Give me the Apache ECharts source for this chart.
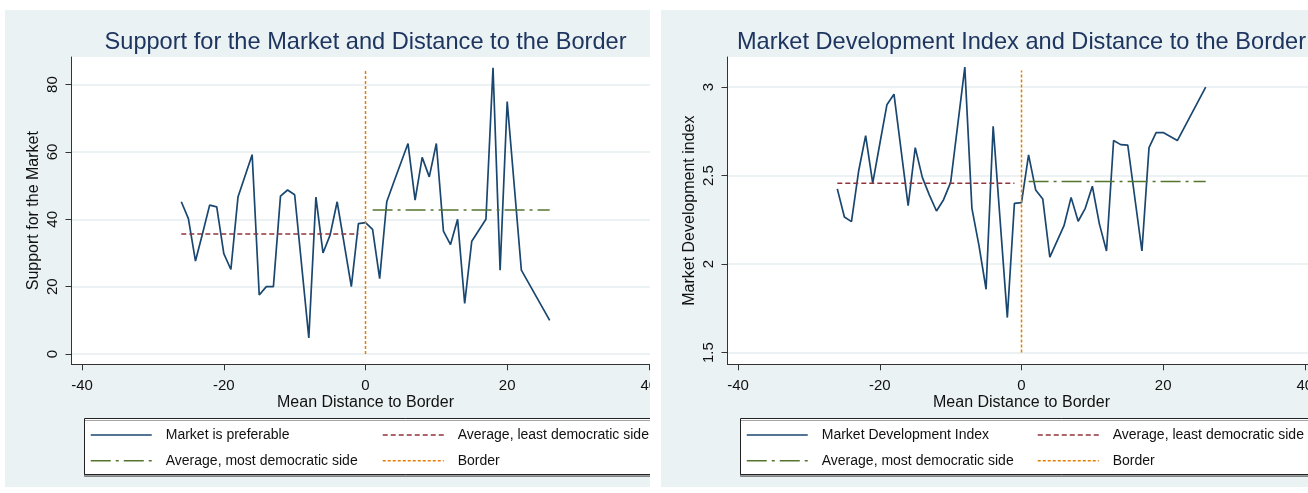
<!DOCTYPE html>
<html>
<head>
<meta charset="utf-8">
<script src="https://cdn.jsdelivr.net/npm/echarts@6/dist/echarts.min.js"></script>
<style>
  body { margin: 0; background: #fff; width: 1308px; height: 493px; position: relative; overflow: hidden; }
  .panel { position: absolute; top: 10px; height: 477px; overflow: hidden; background: #eaf2f3; }
  .panel .chart { width: 721px; height: 477px; }
</style>
</head>
<body>
<div class="panel" style="left:5px;width:645px"><div id="support" class="chart"></div></div>
<div class="panel" style="left:661px;width:647px"><div id="mdi" class="chart"></div></div>
<script>
// mean distance to border, one point per bin
var distance = [-26, -25, -24, -23, -22, -21, -20, -19, -18, -16, -15, -14, -13, -12, -11, -10,
  -8, -7, -6, -5, -4, -2, -1, 0, 1, 2, 3, 4, 6, 7, 8, 9, 10, 11, 12, 13, 14, 15, 17, 18, 19, 20, 22, 26]

// support for the market (%)
var supportMarket = [45.2, 40.2, 27.6, 35.8, 44.2, 43.7, 29.8, 25.1, 46.6, 59.2, 17.5, 20.0, 20.0, 46.9, 48.7, 47.3,
  4.8, 46.6, 30.0, 35.3, 45.2, 20.0, 38.7, 39.0, 37.0, 22.4, 45.2, 51.1, 62.5, 45.7, 58.4, 52.6, 62.5, 36.5, 32.5, 40.0,
  15.0, 33.5, 40.0, 85.0, 24.9, 75.0, 24.9, 10.0]

// market development index
var marketIndex = [2.425, 2.266, 2.240, 2.523, 2.726, 2.458, 2.68, 2.900, 2.960, 2.330, 2.658, 2.49, 2.39, 2.300, 2.364, 2.462,
  3.113, 2.315, 2.104, 1.858, 2.779, 1.698, 2.343, 2.347, 2.617, 2.419, 2.368, 2.040, 2.217, 2.377, 2.242, 2.315, 2.440, 2.226,
  2.074, 2.698, 2.675, 2.672, 2.074, 2.658, 2.743, 2.743, 2.698, 3.000]

// side averages: [from, to, value]
var supportLeast = [-26, -1, 35.6]
var supportMost = [1, 26, 42.8]
var indexLeast = [-26, -1, 2.457]
var indexMost = [1, 26, 2.466]

// border line: [bottom, top]
var supportBorder = [0, 84.5]
var indexBorder = [1.5, 3.094]

var xTicks = [-40, -20, 0, 20, 40]
var supportTicks = [0, 20, 40, 60, 80]
var indexTicks = [1.5, 2, 2.5, 3]

var FONT = '"Liberation Sans", Arial, sans-serif'
var INK = '#111'

function pairs(xs, ys) {
  return xs.map(function (x, i) { return [x, ys[i]] })
}

function hline(a) {
  return [[a[0], a[2]], [a[1], a[2]]]
}

function legendCol(left, names) {
  return {
    orient: 'vertical',
    left: left,
    top: 418,
    padding: 0,
    itemGap: 11.7,
    itemWidth: 61,
    itemHeight: 14,
    selectedMode: false,
    data: names,
    // hide the circle ECharts puts on line icons
    itemStyle: { color: 'transparent', borderWidth: 0 },
    lineStyle: { width: 1.5 },
    textStyle: { fontFamily: FONT, fontSize: 14, color: INK, padding: [0, 0, 0, 9] }
  }
}

function buildOption(cfg) {
  return {
    animation: false,
    textStyle: { fontFamily: FONT },
    title: {
      text: cfg.title,
      left: 'center',
      top: 15,
      textStyle: { fontFamily: FONT, fontSize: 23.6, fontWeight: 'normal', color: '#1e3560' }
    },
    grid: { left: 66.5, right: 66.5, top: 47, bottom: 122.7, show: true, backgroundColor: '#fff', borderWidth: 0 },
    /** legend box */
    graphic: [{
      type: 'rect',
      left: 79,
      top: 408,
      z: 0,
      shape: { width: 700, height: 56 },
      style: { fill: '#fff', stroke: '#222', lineWidth: 1, shadowColor: 'rgba(0,0,0,0.35)', shadowOffsetY: 2 }
    }],
    legend: [
      legendCol(85, [cfg.name, 'Average, most democratic side']),
      legendCol(cfg.col2, ['Average, least democratic side', 'Border'])
    ],
    xAxis: {
      type: 'value',
      min: -41.5,
      max: 41.5,
      name: 'Mean Distance to Border',
      nameLocation: 'middle',
      nameGap: 30,
      nameMoveOverlap: false,
      nameTextStyle: { fontFamily: FONT, fontSize: 16, color: INK },
      axisLine: { show: true, onZero: false, lineStyle: { color: '#333', width: 1 } },
      axisTick: { show: true, length: 6, customValues: xTicks, lineStyle: { color: '#333' } },
      axisLabel: { customValues: xTicks, fontFamily: FONT, fontSize: 15, color: INK, margin: 14 },
      splitLine: { show: false }
    },
    yAxis: {
      type: 'value',
      min: cfg.yMin,
      max: cfg.yMax,
      name: cfg.yName,
      nameLocation: 'middle',
      nameGap: 30,
      nameMoveOverlap: false,
      nameTextStyle: { fontFamily: FONT, fontSize: 16, color: INK },
      axisLine: { show: true, onZero: false, lineStyle: { color: '#333', width: 1 } },
      axisTick: { show: true, length: 6, customValues: cfg.yTicks, lineStyle: { color: '#333' } },
      axisLabel: { customValues: cfg.yTicks, rotate: 90, fontFamily: FONT, fontSize: 15, color: INK, margin: 11 },
      splitLine: { show: true, lineStyle: { color: '#e6eef0', width: 1.5 } }
    },
    series: [
      {
        name: cfg.name,
        type: 'line',
        symbol: 'none',
        data: pairs(distance, cfg.values),
        itemStyle: { color: '#1a476f' },
        lineStyle: { color: '#1a476f', width: 1.7 }
      },
      {
        name: 'Average, least democratic side',
        type: 'line',
        symbol: 'none',
        data: hline(cfg.least),
        itemStyle: { color: '#90353b' },
        lineStyle: { color: '#90353b', width: 1.5, type: [5, 3] }
      },
      {
        name: 'Average, most democratic side',
        type: 'line',
        symbol: 'none',
        data: hline(cfg.most),
        itemStyle: { color: '#55752f' },
        lineStyle: { color: '#55752f', width: 1.5, type: [20, 5, 3, 5] }
      },
      {
        name: 'Border',
        type: 'line',
        symbol: 'none',
        data: [[0, cfg.border[0]], [0, cfg.border[1]]],
        itemStyle: { color: '#e37e00' },
        lineStyle: { color: '#e37e00', width: 1.5, type: [3, 2] }
      }
    ]
  }
}

var supportChart = echarts.init(document.getElementById('support'))
supportChart.setOption(buildOption({
  title: 'Support for the Market and Distance to the Border',
  name: 'Market is preferable',
  yName: 'Support for the Market',
  values: supportMarket,
  least: supportLeast,
  most: supportMost,
  border: supportBorder,
  yMin: -3.06,
  yMax: 88.2,
  yTicks: supportTicks,
  col2: 377
}))

var indexChart = echarts.init(document.getElementById('mdi'))
indexChart.setOption(buildOption({
  title: 'Market Development Index and Distance to the Border',
  name: 'Market Development Index',
  yName: 'Market Development index',
  values: marketIndex,
  least: indexLeast,
  most: indexMost,
  border: indexBorder,
  yMin: 1.434,
  yMax: 3.17,
  yTicks: indexTicks,
  col2: 376
}))
</script>
</body>
</html>
